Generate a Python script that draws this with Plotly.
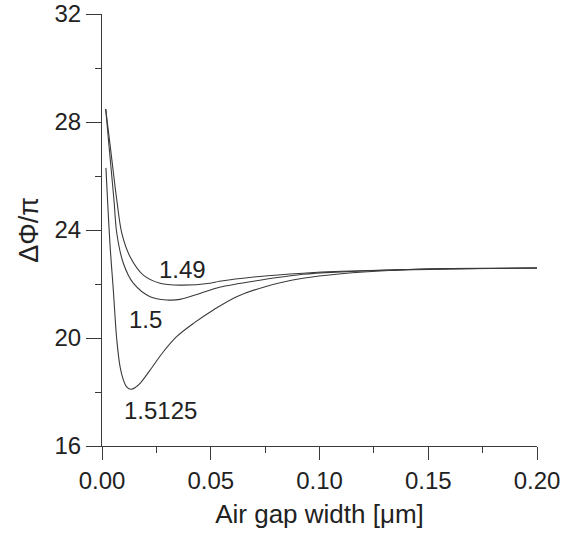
import plotly.graph_objects as go

# Air gap width [um] and phase difference / pi for three refractive indices
x_149 = [0.0017, 0.0040, 0.0068, 0.0091, 0.0129, 0.0190, 0.0267, 0.0359, 0.0497, 0.0540, 0.0724, 0.0924, 0.1100, 0.1320, 0.1600, 0.2000]
y_149 = [28.48, 26.96, 25.11, 23.88, 23.01, 22.33, 22.03, 21.96, 22.03, 22.10, 22.28, 22.40, 22.47, 22.52, 22.57, 22.59]

x_150 = [0.0017, 0.0034, 0.0055, 0.0068, 0.0098, 0.0144, 0.0221, 0.0297, 0.0359, 0.0450, 0.0540, 0.0726, 0.0924, 0.1100, 0.1320, 0.1600, 0.2000]
y_150 = [28.48, 26.96, 25.11, 23.88, 22.77, 22.03, 21.53, 21.41, 21.43, 21.65, 21.88, 22.14, 22.36, 22.45, 22.52, 22.57, 22.59]

x_15125 = [0.0018, 0.0037, 0.0052, 0.0068, 0.0083, 0.0098, 0.0114, 0.0133, 0.0155, 0.0175, 0.0221, 0.0282, 0.0343, 0.0420, 0.0512, 0.0619, 0.0750, 0.0924, 0.1100, 0.1320, 0.1600, 0.2000]
y_15125 = [26.30, 23.44, 21.78, 19.93, 18.94, 18.45, 18.18, 18.10, 18.18, 18.32, 18.81, 19.49, 20.05, 20.54, 21.04, 21.53, 21.90, 22.21, 22.38, 22.50, 22.56, 22.59]

series_names = ["1.49", "1.5", "1.5125"]
label_x = [0.0372, 0.0198, 0.0267]
label_y = [22.52, 20.67, 17.33]

x_ticks = [0.0, 0.05, 0.10, 0.15, 0.20]
x_ticktext = ["0.00", "0.05", "0.10", "0.15", "0.20"]
y_ticks = [16, 20, 24, 28, 32]

line_color = "#3a3a3a"
font_family = "Liberation Sans, Arial, sans-serif"

fig = go.Figure()
for xs, ys, name in zip([x_149, x_150, x_15125], [y_149, y_150, y_15125], series_names):
    fig.add_trace(go.Scatter(
        x=xs, y=ys, mode="lines", name=name,
        line=dict(color=line_color, width=1.1, shape="spline", smoothing=0.9),
        showlegend=False, hoverinfo="skip",
    ))

for name, lx, ly in zip(series_names, label_x, label_y):
    fig.add_annotation(x=lx, y=ly, text=name, showarrow=False,
                       font=dict(size=24, color="#222222", family=font_family),
                       xref="x", yref="y")

fig.update_layout(
    width=562, height=541,
    margin=dict(l=102, r=25, t=14, b=95, autoexpand=False),
    paper_bgcolor="white", plot_bgcolor="white",
    font=dict(family=font_family, size=24, color="#222222"),
    showlegend=False,
)

fig.update_xaxes(
    range=[0, 0.2], tickvals=x_ticks, ticktext=x_ticktext,
    showgrid=False, zeroline=False, automargin=False,
    showline=True, linecolor=line_color, linewidth=1,
    ticks="outside", ticklen=13, tickwidth=1, tickcolor=line_color,
    minor=dict(dtick=0.025, ticks="outside", ticklen=6, tickwidth=1, tickcolor=line_color, showgrid=False),
    tickfont=dict(size=24),
    title=dict(text="Air gap width [μm]", font=dict(size=26), standoff=12),
)
fig.update_yaxes(
    range=[16, 32], tickvals=y_ticks,
    showgrid=False, zeroline=False, automargin=False,
    showline=True, linecolor=line_color, linewidth=1,
    ticks="outside", ticklen=15, tickwidth=1, tickcolor=line_color,
    minor=dict(dtick=2, ticks="outside", ticklen=6, tickwidth=1, tickcolor=line_color, showgrid=False),
    tickfont=dict(size=24),
    title=dict(text="ΔΦ/π", font=dict(size=27), standoff=8),
)

fig.write_html("out.html")
